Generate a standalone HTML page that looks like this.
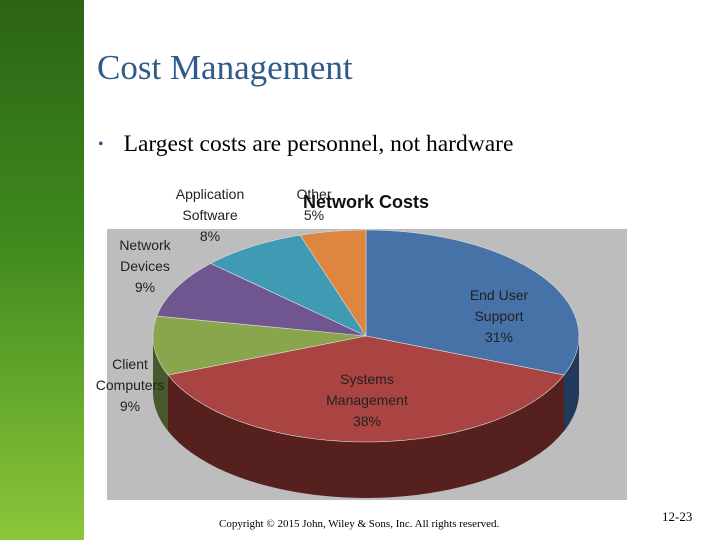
<!DOCTYPE html>
<html><head><meta charset="utf-8"><style>
body{margin:0;width:720px;height:540px;overflow:hidden;background:#fff;position:relative;font-family:"Liberation Serif",serif}
#side{position:absolute;left:0;top:0;width:84px;height:540px;background:linear-gradient(#2c6414,#3f8a1e 45%,#8cc63a)}
#title{position:absolute;left:97px;top:48px;font-size:35px;color:#2f5a8a}
#bullet{position:absolute;left:98px;top:131px;font-size:23.5px;color:#000}
#bullet span{color:#2f5a8a;font-size:16px;margin-right:20px;vertical-align:2px}
#copy{position:absolute;left:219px;top:518px;font-size:11px}
#num{position:absolute;left:662px;top:509px;font-size:13px}
svg{position:absolute;left:0;top:0}
.l{font-family:"Liberation Sans",sans-serif;font-size:14px;fill:#222;text-anchor:middle}
</style></head><body>
<div id="side"></div>
<div id="title">Cost Management</div>
<div id="bullet"><span>•</span>Largest costs are personnel, not hardware</div>
<svg id="chart" width="720" height="540">
<rect x="107" y="229" width="520" height="271" fill="#bdbdbd"/>
<g id="sides"></g><g id="tops"></g>
<g id="labels"></g>
<text x="366" y="208" font-family="Liberation Sans,sans-serif" font-weight="bold" font-size="18" text-anchor="middle" fill="#111">Network Costs</text>
</svg>
<div id="copy">Copyright © 2015 John, Wiley &amp; Sons, Inc. All rights reserved.</div>
<div id="num">12-23</div>
<script>
const categories=["End User Support","Systems Management","Client Computers","Network Devices","Application Software","Other"];
const values=[31,38,9,9,8,5];
const labelLines=[["End User","Support","31%"],["Systems","Management","38%"],["Client","Computers","9%"],["Network","Devices","9%"],["Application","Software","8%"],["Other","5%"]];
const topColors=["#4672a8","#a94442","#8aa64c","#6f5690","#3f9ab4","#dc8640"];
const sideColors=["#213a5c","#56201f","#48582a","#3b2d4d","#21515f","#77471f"];
const labelPos=[[499,300],[367,384],[130,369],[145,250],[210,199],[314,199]];
const cx=366,cy=336,rx=213,ry=106,depth=56;
const NS="http://www.w3.org/2000/svg";
const total=values.reduce((a,b)=>a+b,0);
function pt(t,dy){return [cx+rx*Math.sin(t),cy-ry*Math.cos(t)+(dy||0)];}
function arc(a,b,dy){let s="";const n=40;for(let i=0;i<=n;i++){const t=a+(b-a)*i/n;const p=pt(t,dy);s+=(i?"L":"")+p[0].toFixed(1)+","+p[1].toFixed(1);}return s;}
let acc=0;
const sides=document.getElementById("sides"),tops=document.getElementById("tops"),labels=document.getElementById("labels");
values.forEach((v,i)=>{
 const a=acc/total*2*Math.PI,b=(acc+v)/total*2*Math.PI;acc+=v;
 const sa=Math.max(a,Math.PI/2),sb=Math.min(b,3*Math.PI/2);
 if(sb>sa){
  const back=arc(sb,sa,depth).replace(/^/,"L");
  const p=document.createElementNS(NS,"path");
  p.setAttribute("d","M"+arc(sa,sb)+back+"Z");
  p.setAttribute("fill",sideColors[i]);
  
  
  sides.appendChild(p);
 }
 const p=document.createElementNS(NS,"path");
 p.setAttribute("d","M"+cx+","+cy+"L"+arc(a,b)+"Z");
 p.setAttribute("fill",topColors[i]);
 p.setAttribute("stroke","#ddd");p.setAttribute("stroke-width","0.6");
 
 
 tops.appendChild(p);
 const t=document.createElementNS(NS,"text");
 t.setAttribute("class","l");
 
 
 labelLines[i].forEach((ln,j)=>{const s=document.createElementNS(NS,"tspan");s.setAttribute("x",labelPos[i][0]);s.setAttribute("y",labelPos[i][1]+j*21);s.textContent=ln;t.appendChild(s);});
 labels.appendChild(t);
});
</script>
</body></html>
